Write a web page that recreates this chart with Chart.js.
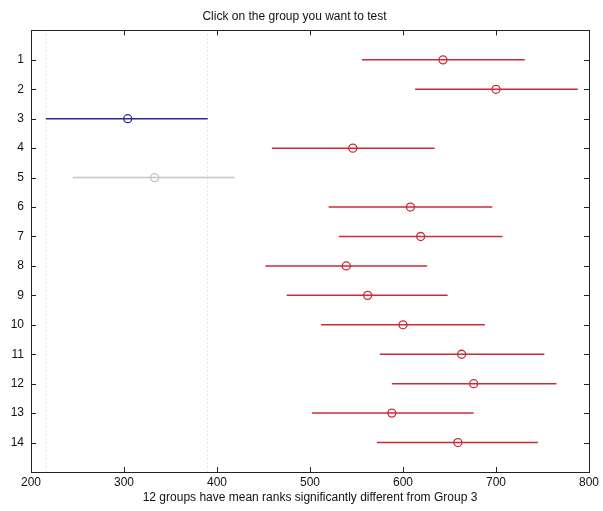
<!DOCTYPE html>
<html>
<head>
<meta charset="utf-8">
<script src="https://cdn.jsdelivr.net/npm/chart.js@4"></script>
<style>
  html, body { margin: 0; padding: 0; background: #fff; }
  #wrap { width: 603px; height: 511px; position: relative; }
</style>
</head>
<body>
<div id="wrap"><canvas id="chart"></canvas></div>
<script>
// --- Data ---
const groupLabels = ['1', '2', '3', '4', '5', '6', '7', '8', '9', '10', '11', '12', '13', '14'];
const meanRanks   = [643, 700, 304, 546, 333, 608, 619, 539, 562, 600, 663, 676, 588, 659];
const lowerBounds = [556, 613, 216, 459, 245, 520, 531, 452, 475, 512, 575, 588, 502, 572];
const upperBounds = [731, 788, 390, 634, 419, 696, 707, 626, 648, 688, 752, 765, 676, 745];
const xTickValues = [200, 300, 400, 500, 600, 700, 800];
const selectedGroup = 3;
const sameAsSelected = [5];

const titleText = 'Click on the group you want to test';
const xLabelText = '12 groups have mean ranks significantly different from Group 3';

// --- Styles ---
const RED = '#cc2b36';
const BLUE = '#2b2b8f';
const GREY = '#c4c4c4';
const FONT = "'Liberation Sans', Arial, sans-serif";

function colorFor(g) {
    if (g === selectedGroup) return BLUE;
    if (sameAsSelected.includes(g)) return GREY;
    return RED;
}

// --- Datasets ---
const datasets = [];

// dotted guide lines at the selected group's interval ends
const sel = selectedGroup - 1;
[lowerBounds[sel], upperBounds[sel]].forEach(v => {
    datasets.push({
        data: [{ x: v, y: 0 }, { x: v, y: 15 }],
        showLine: true,
        borderColor: '#c8c8c8',
        borderWidth: 1,
        borderDash: [1, 3],
        pointRadius: 0,
        order: 10
    });
});

groupLabels.forEach((label, i) => {
    const g = i + 1;
    const c = colorFor(g);
    datasets.push({
        label: 'Group ' + label,
        data: [
            { x: lowerBounds[i], y: g },
            { x: meanRanks[i], y: g },
            { x: upperBounds[i], y: g }
        ],
        showLine: true,
        borderColor: c,
        borderWidth: 1.5,
        pointRadius: [0, 4, 0],
        pointBorderWidth: 1.3,
        pointBorderColor: c,
        pointBackgroundColor: 'rgba(255,255,255,0)',
        order: 1
    });
});

// --- Axis box + inward ticks (MATLAB style) ---
const boxPlugin = {
    id: 'box',
    afterDraw(chart) {
        const { ctx, chartArea: a, scales } = chart;
        ctx.save();
        ctx.strokeStyle = '#222';
        ctx.lineWidth = 1;
        ctx.strokeRect(Math.round(a.left) + 0.5, Math.round(a.top) + 0.5,
            Math.round(a.right - a.left), Math.round(a.bottom - a.top));
        const len = 5;
        ctx.beginPath();
        xTickValues.forEach(v => {
            const px = Math.round(scales.x.getPixelForValue(v)) + 0.5;
            ctx.moveTo(px, a.bottom); ctx.lineTo(px, a.bottom - len);
            ctx.moveTo(px, a.top); ctx.lineTo(px, a.top + len);
        });
        groupLabels.forEach((l, i) => {
            const py = Math.round(scales.y.getPixelForValue(i + 1)) + 0.5;
            ctx.moveTo(a.left, py); ctx.lineTo(a.left + len, py);
            ctx.moveTo(a.right, py); ctx.lineTo(a.right - len, py);
        });
        ctx.stroke();
        ctx.restore();
    }
};

new Chart(document.getElementById('chart'), {
    type: 'scatter',
    data: { datasets },
    plugins: [boxPlugin],
    options: {
        responsive: true,
        maintainAspectRatio: false,
        devicePixelRatio: 1,
        animation: false,
        layout: { padding: { left: 0, right: 14, top: 0, bottom: 0 } },
        plugins: {
            legend: { display: false },
            tooltip: { enabled: false },
            title: {
                display: true,
                text: titleText,
                color: '#111',
                font: { family: FONT, size: 12, weight: 'normal', lineHeight: 1.2 },
                padding: { top: 9, bottom: 7 }
            }
        },
        scales: {
            x: {
                type: 'linear',
                min: 200,
                max: 800,
                grid: { display: false, drawTicks: false },
                border: { display: false },
                afterBuildTicks: s => { s.ticks = xTickValues.map(v => ({ value: v })); },
                afterFit: s => { s.height = 39; },
                ticks: {
                    color: '#111',
                    padding: 3,
                    maxRotation: 0,
                    font: { family: FONT, size: 12 }
                },
                title: {
                    display: true,
                    text: xLabelText,
                    color: '#111',
                    font: { family: FONT, size: 12 },
                    padding: { top: 0, bottom: 6 }
                }
            },
            y: {
                type: 'linear',
                min: 0,
                max: 15,
                reverse: true,
                grid: { display: false, drawTicks: false },
                border: { display: false },
                afterBuildTicks: s => { s.ticks = groupLabels.map((l, i) => ({ value: i + 1 })); },
                afterFit: s => { s.width = 31; },
                ticks: {
                    color: '#111',
                    padding: 7,
                    font: { family: FONT, size: 12 },
                    callback: v => groupLabels[v - 1]
                }
            }
        }
    }
});
</script>
</body>
</html>
